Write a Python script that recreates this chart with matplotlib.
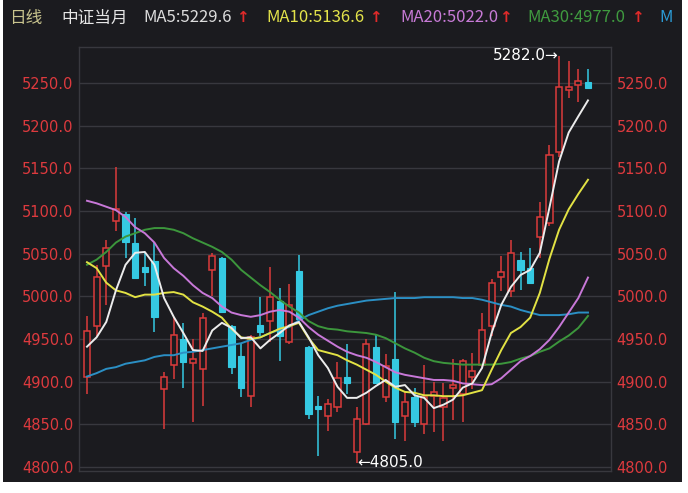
import matplotlib
matplotlib.use("Agg")
import matplotlib.pyplot as plt
from matplotlib.patches import Rectangle
import numpy as np

# ---------------- data ----------------
opens = [4906, 4965, 5035, 5088, 5096, 5063, 5034, 5041, 4891, 4920,
         4950, 4922, 4915, 5031, 5045, 4965, 4930, 4883, 4966, 4971,
         4995, 4946, 5030, 4941, 4872, 4860, 4870, 4905, 4817, 4850,
         4941, 4882, 4927, 4860, 4882, 4850, 4883, 4870, 4892, 4886,
         4905, 4920, 4965, 5023, 5006, 5042, 5033, 5069, 5086, 5169,
         5242, 5248, 5251]
highs = [4977, 5037, 5066, 5151, 5099, 5092, 5052, 5064, 4911, 4976,
         4969, 4950, 4981, 5051, 5046, 4966, 4944, 4955, 4999, 5034,
         5010, 5014, 5049, 4942, 4883, 4880, 4923, 4944, 4870, 4950,
         4955, 4932, 5005, 4889, 4893, 4920, 4900, 4899, 4926, 4926,
         4934, 4981, 5020, 5047, 5066, 5052, 5057, 5110, 5177, 5282,
         5276, 5267, 5267]
lows = [4885, 4953, 4990, 5076, 5045, 5020, 5012, 4958, 4844, 4903,
        4893, 4853, 4871, 5000, 4981, 4909, 4882, 4870, 4953, 4947,
        4924, 4944, 4972, 4856, 4813, 4842, 4865, 4885, 4805, 4849,
        4898, 4876, 4833, 4830, 4847, 4839, 4841, 4830, 4855, 4853,
        4891, 4917, 4953, 5006, 4999, 5008, 5014, 5045, 5082, 5163,
        5232, 5228, 5244]
closes = [4959, 5023, 5057, 5102, 5064, 5022, 5028, 4976, 4905, 4955,
          4923, 4926, 4975, 5047, 4982, 4917, 4893, 4952, 4958, 4999,
          4953, 4990, 4973, 4862, 4868, 4874, 4904, 4899, 4856, 4944,
          4899, 4918, 4853, 4876, 4853, 4882, 4888, 4881, 4896, 4924,
          4912, 4961, 5016, 5028, 5051, 5031, 5016, 5093, 5166, 5245,
          5245, 5252, 5244]

ma5 = [4941, 4952, 4970, 5007, 5037, 5051, 5052, 5037, 4998, 4976,
       4957, 4937, 4936, 4960, 4969, 4963, 4951, 4952, 4939, 4949,
       4957, 4966, 4970, 4952, 4931, 4916, 4894, 4881, 4881, 4887,
       4895, 4902, 4894, 4896, 4884, 4881, 4869, 4873, 4879, 4893,
       4898, 4916, 4957, 4990, 5011, 5025, 5031, 5051, 5104, 5158,
       5192, 5211, 5229.6]
ma10 = [5040, 5033, 5016, 5007, 5004, 4999, 5002, 5002, 5004, 5005,
        5002, 4993, 4988, 4982, 4975, 4962, 4952, 4950, 4952, 4957,
        4962, 4965, 4969, 4951, 4937, 4934, 4931, 4925, 4920, 4914,
        4908, 4900, 4893, 4888, 4887, 4884, 4884, 4883, 4883, 4884,
        4887, 4890, 4914, 4937, 4957, 4964, 4975, 5004, 5044, 5078,
        5102, 5120, 5136.6]
ma20 = [5112, 5109, 5105, 5101, 5093, 5081, 5074, 5063, 5045, 5033,
        5024, 5013, 5004, 4998, 4988, 4981, 4978, 4976, 4978, 4982,
        4984, 4982, 4975, 4964, 4955, 4948, 4941, 4935, 4931, 4928,
        4923, 4917, 4911, 4908, 4906, 4904, 4902, 4902, 4901, 4898,
        4897, 4896, 4897, 4904, 4914, 4924, 4930, 4938, 4949, 4964,
        4981, 4998, 5022.0]
ma30 = [5037, 5043, 5052, 5063, 5070, 5074, 5078, 5080, 5080, 5078,
        5074, 5068, 5063, 5058, 5052, 5043, 5031, 5022, 5013, 5005,
        4996, 4988, 4981, 4971, 4965, 4962, 4961, 4959, 4958, 4957,
        4955, 4951, 4945, 4939, 4934, 4928, 4924, 4922, 4921, 4920,
        4920, 4920, 4920, 4921, 4923, 4927, 4930, 4935, 4939, 4947,
        4954, 4963, 4977.0]
ma60 = [4906, 4910, 4915, 4917, 4921, 4923, 4925, 4929, 4931, 4931,
        4934, 4935, 4937, 4939, 4941, 4943, 4945, 4949, 4952, 4957,
        4961, 4964, 4972, 4978, 4982, 4986, 4989, 4991, 4993, 4995,
        4996, 4997, 4998, 4998, 4998, 4999, 4999, 4999, 4999, 4998,
        4998, 4996, 4993, 4990, 4988, 4984, 4981, 4978, 4978, 4978,
        4979, 4981, 4981]

yticks = [4800, 4850, 4900, 4950, 5000, 5050, 5100, 5150, 5200, 5250]
ytick_labels = [f"{v:.1f}" for v in yticks]

header_items = [
    ("日线", "#c9c48e"),
    ("中证当月", "#e6e6e6"),
    ("MA5:5229.6", "#dcdcdc"),
    ("MA10:5136.6", "#e3e34a"),
    ("MA20:5022.0", "#c77ad6"),
    ("MA30:4977.0", "#3f9a3f"),
    ("M", "#2b9bd6"),
]
header_x = [9, 61, 143, 266, 400, 527, 659]
arrow_x = [None, None, 236, 369, 499, 631, None]

max_idx = int(np.argmax(highs))
min_idx = int(np.argmin(lows))

# ---------------- style ----------------
BG = "#1b1b1f"
GRID = "#38383e"
UP = "#dc3b3b"
DOWN = "#35c9e2"
TICK = "#dd3a3e"
CJK = ["Noto Sans CJK SC", "DejaVu Sans"]

W, H = 688, 493
fig = plt.figure(figsize=(W / 100, H / 100), dpi=100, facecolor="white")
fig.patches.append(Rectangle((3 / W, 1 - 482 / H), (682 - 3) / W, 482 / H,
                             transform=fig.transFigure, facecolor=BG,
                             edgecolor="none", zorder=-10))

ax = fig.add_axes([79 / W, 1 - 471 / H, (611 - 79) / W, (471 - 47) / H])
ax.set_facecolor(BG)
ax.set_zorder(1)

x = np.arange(len(opens))
o = np.array(opens, float)
c = np.array(closes, float)
hi = np.array(highs, float)
lo = np.array(lows, float)
up = c >= o

# wicks
ax.vlines(x[up], lo[up], hi[up], color=UP, lw=1.1, zorder=2)
ax.vlines(x[~up], lo[~up], hi[~up], color=DOWN, lw=1.1, zorder=2)
# bodies
bw = 0.64
bottom = np.minimum(o, c)
height = np.maximum(np.abs(c - o), 2.5)
ax.bar(x[up], height[up], bottom=bottom[up], width=bw, facecolor=BG,
       edgecolor=UP, linewidth=1.1, zorder=3)
ax.bar(x[~up], height[~up], bottom=bottom[~up], width=bw, facecolor=DOWN,
       edgecolor=DOWN, linewidth=0.8, zorder=3)

# moving averages
ax.plot(x, ma60, color="#2b8fc4", lw=1.4, zorder=4)
ax.plot(x, ma30, color="#3c963c", lw=1.4, zorder=4)
ax.plot(x, ma20, color="#c878d8", lw=1.4, zorder=4)
ax.plot(x, ma10, color="#e2e244", lw=1.4, zorder=4)
ax.plot(x, ma5, color="#ececec", lw=1.4, zorder=5)

# annotations
ax.text(x[max_idx] - 0.05, highs[max_idx], f"{highs[max_idx]:.1f}\u2192",
        color="white", fontsize=11, ha="right", va="center", zorder=6,
        family=["DejaVu Sans"])
ax.text(x[min_idx] + 0.1, lows[min_idx], f"\u2190{lows[min_idx]:.1f}",
        color="white", fontsize=11, ha="left", va="center", zorder=6,
        family=["DejaVu Sans"])

# axes
ax.set_xlim(-0.83, len(opens) - 1 + 2.39)
ax.set_ylim(4795.3, 5292.2)
ax.set_xticks([])
ax.set_yticks(yticks)
ax.set_yticklabels(ytick_labels)
ax.tick_params(axis="y", length=0, labelleft=True, labelright=True,
               colors=TICK, labelsize=10.5, pad=4)
for lab in ax.get_yticklabels():
    lab.set_fontfamily("DejaVu Sans")
ax.grid(axis="y", color=GRID, lw=1.0, zorder=1)
ax.set_axisbelow(True)
for s in ax.spines.values():
    s.set_color(GRID)
    s.set_linewidth(1.0)

# header
for (txt, col), hx, ax_x in zip(header_items, header_x, arrow_x):
    fig.text(hx / W, 1 - 18 / H, txt, color=col, fontsize=12,
             family=CJK, ha="left", va="center")
    if ax_x is not None:
        fig.text(ax_x / W, 1 - 18 / H, "\u2191", color="#e02a2a",
                 fontsize=11, family=["DejaVu Sans"], ha="left",
                 va="center", fontweight="bold")

fig.savefig("out.png", dpi=100, facecolor="white")
